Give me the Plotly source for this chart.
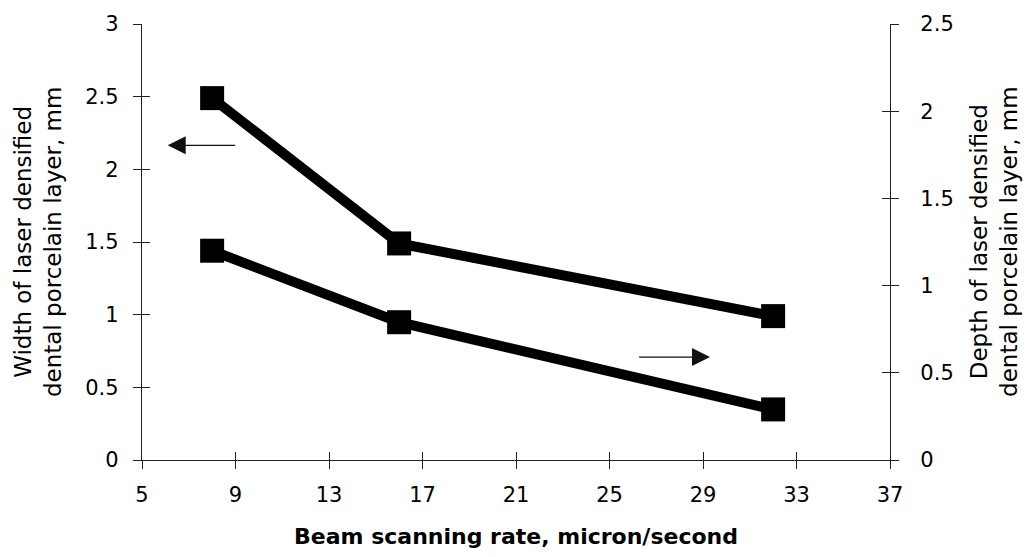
import plotly.graph_objects as go

x_vals = [8, 16, 32]
width_mm = [2.49, 1.49, 0.99]
depth_mm = [1.2, 0.79, 0.29]

x_ticks = [5, 9, 13, 17, 21, 25, 29, 33, 37]
left_ticks = [0, 0.5, 1, 1.5, 2, 2.5, 3]
right_ticks = [0, 0.5, 1, 1.5, 2, 2.5]

FONT = "DejaVu Sans, Liberation Sans, sans-serif"
AX = "#222222"

fig = go.Figure()
fig.add_trace(go.Scatter(x=x_vals, y=width_mm, mode="lines+markers",
                         line=dict(color="black", width=10),
                         marker=dict(symbol="square", size=24, color="black"),
                         yaxis="y", showlegend=False))
fig.add_trace(go.Scatter(x=x_vals, y=depth_mm, mode="lines+markers",
                         line=dict(color="black", width=10),
                         marker=dict(symbol="square", size=24, color="black"),
                         yaxis="y2", showlegend=False))

common = dict(showgrid=False, zeroline=False, linecolor=AX, linewidth=1.3,
              tickcolor=AX, ticklen=8, tickwidth=1.3,
              tickfont=dict(family=FONT, size=21, color="black"))
inner = dict(ticks="inside", showline=False, showticklabels=False, showgrid=False,
             zeroline=False, tickcolor=AX, ticklen=8, tickwidth=1.3)

fig.update_layout(
    width=1028, height=557,
    margin=dict(l=142, r=138, t=17, b=95),
    paper_bgcolor="white", plot_bgcolor="white",
    font=dict(family=FONT, color="black"),
    xaxis=dict(range=[5, 37], tickvals=x_ticks, ticks="outside", showline=True,
               anchor="y", ticklabelstandoff=8,
               title=dict(text="<b>Beam scanning rate, micron/second</b>",
                          font=dict(family=FONT, size=22, color="black"), standoff=22),
               **common),
    yaxis=dict(range=[0, 3], tickvals=left_ticks, ticks="outside", showline=True,
               anchor="x", ticklabelstandoff=10, **common),
    yaxis2=dict(range=[0, 2.5], tickvals=right_ticks, ticks="outside", showline=True,
                overlaying="y", side="right", anchor="x", ticklabelstandoff=17,
                **common),
    xaxis2=dict(range=[5, 37], tickvals=x_ticks, overlaying="x", anchor="y", **inner),
    yaxis3=dict(range=[0, 3], tickvals=left_ticks, overlaying="y", anchor="x", **inner),
    yaxis4=dict(range=[0, 2.5], tickvals=right_ticks, overlaying="y", side="right",
                anchor="x", **inner),
)

# empty traces so the overlay (inner tick) axes render
fig.add_trace(go.Scatter(x=[None], y=[None], xaxis="x2", yaxis="y3",
                         showlegend=False, hoverinfo="skip"))
fig.add_trace(go.Scatter(x=[None], y=[None], xaxis="x", yaxis="y4",
                         showlegend=False, hoverinfo="skip"))

fig.add_annotation(x=-0.179, y=0.5, xref="paper", yref="paper", textangle=-90,
                   text="Width of laser densified<br>dental porcelain layer, mm",
                   showarrow=False, font=dict(family=FONT, size=23, color="black"),
                   align="center")
fig.add_annotation(x=1.179, y=0.5, xref="paper", yref="paper", textangle=-90,
                   text="Depth of laser densified<br>dental porcelain layer, mm",
                   showarrow=False, font=dict(family=FONT, size=23, color="black"),
                   align="center")

# direction arrows
fig.add_annotation(x=6.1, y=2.165, ax=9.05, ay=2.165, xref="x", yref="y",
                   axref="x", ayref="y", text="", showarrow=True,
                   arrowhead=2, arrowsize=3, arrowwidth=1.2, arrowcolor="#111")
fig.add_annotation(x=29.3, y=0.59, ax=26.2, ay=0.59, xref="x", yref="y2",
                   axref="x", ayref="y2", text="", showarrow=True,
                   arrowhead=2, arrowsize=3, arrowwidth=1.2, arrowcolor="#111")

fig.write_html("out.html", config={"displayModeBar": False},
               post_script="document.body.style.margin='0';document.body.style.overflow='hidden';")
